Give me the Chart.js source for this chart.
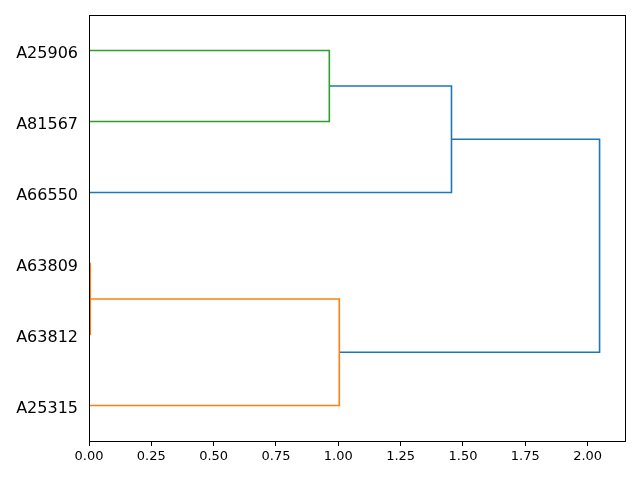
<!DOCTYPE html>
<html lang="en">
<head>
  <meta charset="UTF-8" />
  <title>Dendrogram</title>
  <script src="https://cdn.jsdelivr.net/npm/chart.js"></script>
  <style>
    html, body { margin: 0; padding: 0; background: #fff; }
  </style>
</head>
<body>
  <canvas id="dendro" width="640" height="480"></canvas>

  <script>
    // leaf labels, bottom to top (leaf i sits at y = 5 + 10*i)
    const leafLabels = ['A25315', 'A63812', 'A63809', 'A66550', 'A81567', 'A25906'];

    // merges like a linkage matrix: left node, right node, distance; new node ids start at 6
    const mergeLeft   = [2, 6, 5, 8, 9];
    const mergeRight  = [1, 0, 4, 3, 7];
    const mergeDist   = [0.005, 1.004, 0.964, 1.454, 2.048];
    const mergeColors = ['#ff7f0e', '#ff7f0e', '#2ca02c', '#1f77b4', '#1f77b4'];

    const xTicks = [0, 0.25, 0.5, 0.75, 1.0, 1.25, 1.5, 1.75, 2.0];

    // work out node positions, then each link as a U shape
    const nodeY = leafLabels.map((_, i) => 5 + 10 * i);
    const nodeH = leafLabels.map(() => 0);
    const datasets = [];
    mergeLeft.forEach((a, k) => {
      const b = mergeRight[k];
      const d = mergeDist[k];
      datasets.push({
        data: [
          { x: nodeH[a], y: nodeY[a] },
          { x: d, y: nodeY[a] },
          { x: d, y: nodeY[b] },
          { x: nodeH[b], y: nodeY[b] }
        ],
        showLine: true,
        borderColor: mergeColors[k],
        borderWidth: 1.6,
        pointRadius: 0,
        fill: false,
        tension: 0
      });
      nodeY.push((nodeY[a] + nodeY[b]) / 2);
      nodeH.push(d);
    });

    const frame = {
      id: 'frame',
      afterDraw(chart) {
        const a = chart.chartArea;
        const c = chart.ctx;
        c.save();
        c.strokeStyle = '#000';
        c.lineWidth = 1;
        c.strokeRect(Math.round(a.left) + 0.5, Math.round(a.top) + 0.5,
                     Math.round(a.right - a.left), Math.round(a.bottom - a.top));
        c.restore();
      }
    };

    Chart.defaults.font.family = 'DejaVu Sans';
    Chart.defaults.color = '#000';

    new Chart(document.getElementById('dendro'), {
      type: 'scatter',
      data: { datasets: datasets },
      options: {
        responsive: false,
        animation: false,
        layout: { padding: { top: 15, right: 15, left: 0, bottom: 0 } },
        plugins: { legend: { display: false }, tooltip: { enabled: false } },
        scales: {
          x: {
            type: 'linear',
            min: 0,
            max: 2.15,
            afterBuildTicks: (scale) => { scale.ticks = xTicks.map(v => ({ value: v })); },
            afterFit: (scale) => { scale.height = 39; scale.paddingLeft = 0; scale.paddingRight = 0; },
            ticks: {
              font: { size: 13 },
              padding: 3,
              maxRotation: 0,
              callback: (v) => Number(v).toFixed(2)
            },
            grid: { drawOnChartArea: false, drawTicks: true, tickLength: 5, color: '#000' },
            border: { display: false }
          },
          y: {
            type: 'linear',
            min: 0,
            max: 60,
            afterBuildTicks: (scale) => { scale.ticks = leafLabels.map((_, i) => ({ value: 5 + 10 * i })); },
            afterFit: (scale) => { scale.width = 89; scale.paddingTop = 0; scale.paddingBottom = 0; },
            ticks: {
              font: { size: 16, lineHeight: 0.375 },
              padding: 11,
              // empty first line nudges the label down a few px to sit on the link
              callback: (v) => ['', leafLabels[Math.round((v - 5) / 10)]]
            },
            grid: { display: false, drawTicks: false },
            border: { display: false }
          }
        }
      },
      plugins: [frame]
    });
  </script>
</body>
</html>
